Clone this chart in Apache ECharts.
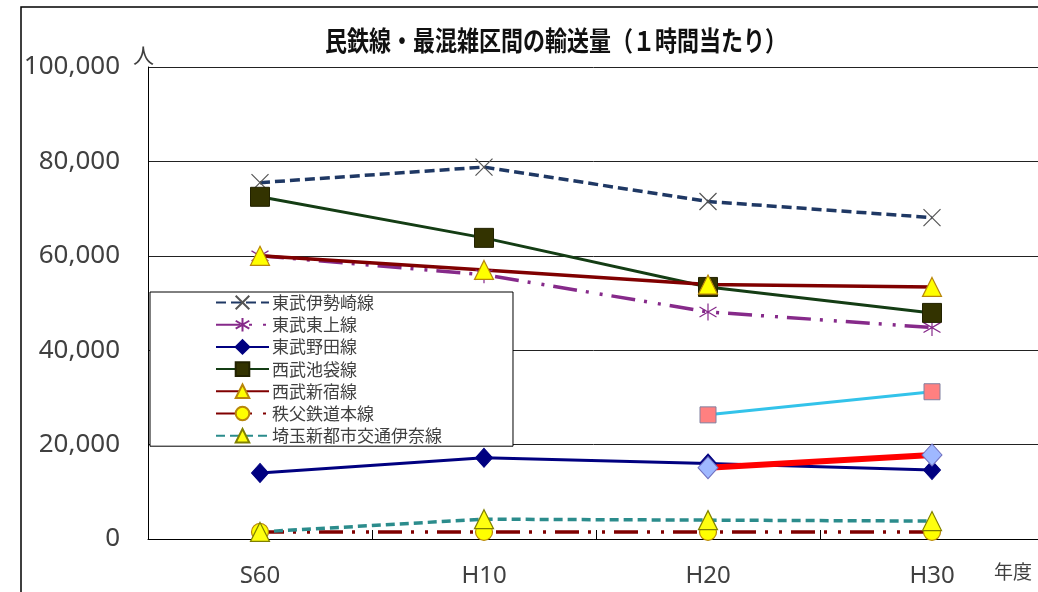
<!DOCTYPE html>
<html><head><meta charset="utf-8">
<script src="https://cdn.jsdelivr.net/npm/echarts@6/dist/echarts.min.js"></script>
<style>html,body{margin:0;padding:0;background:#fff}#c{width:1038px;height:592px}</style>
</head><body><div id="c"></div>
<script>
const categories = ['S60', 'H10', 'H20', 'H30'];
const isesaki = [75500, 78800, 71500, 68100];
const tojo = [60000, 56000, 48100, 44800];
const noda = [14000, 17200, 16000, 14600];
const ikebukuro = [72500, 63800, 53400, 47900];
const shinjuku = [60000, 57000, 53900, 53400];
const chichibu = [1500, 1500, 1500, 1500];
const ina = [1500, 4200, 4000, 3800];
const extraBlue = [null, null, 26300, 31200];
const extraRed = [null, null, 15100, 17800];
const yTicks = [0, 20000, 40000, 60000, 80000, 100000];
const names = ['東武伊勢崎線','東武東上線','東武野田線','西武池袋線','西武新宿線','秩父鉄道本線','埼玉新都市交通伊奈線'];
const titleText = '民鉄線・最混雑区間の輸送量（１時間当たり）';

const F = "'Noto Sans', 'Noto Sans CJK JP', sans-serif";
const FJ = "'Noto Sans CJK JP', 'Noto Sans', sans-serif";
const xPath = 'path://M0,0L10,10M10,0L0,10';
const starPath = 'path://M5,0L5,10M0,2.1L10,7.9M10,2.1L0,7.9';
const dashDotDot = [24, 9, 3, 11, 3, 9];

const chart = echarts.init(document.getElementById('c'));
chart.setOption({
  animation: false,
  backgroundColor: '#fff',
  legend: {
    data: names,
    orient: 'vertical',
    left: 150, top: 292,
    padding: [2, 71, 2, 65],
    itemWidth: 53, itemHeight: 17, itemGap: 5.2,
    backgroundColor: '#fff',
    borderColor: '#000', borderWidth: 1,
    textStyle: {fontFamily: FJ, fontSize: 17, color: '#404040', padding: [0,0,0,-2]}
  },
  grid: {left: 148, top: 67, right: -6, bottom: 53, outerBoundsMode: 'none', containLabel: false},
  xAxis: {
    type: 'category', data: categories, boundaryGap: true,
    axisLine: {lineStyle: {color: '#000', width: 1}},
    axisTick: {show: true, inside: true, length: 9, lineStyle: {color: '#000'}},
    axisLabel: {fontFamily: F, fontSize: 24, color: '#404040', margin: 25},
    splitLine: {show: false}
  },
  yAxis: {
    type: 'value', min: yTicks[0], max: yTicks[yTicks.length-1], interval: 20000,
    axisLine: {show: true, lineStyle: {color: '#000', width: 1}},
    axisTick: {show: false},
    axisLabel: {fontFamily: F, fontSize: 26, color: '#404040', margin: 28,
      formatter: v => v.toLocaleString('en-US')},
    splitLine: {show: true, lineStyle: {color: '#222', width: 1}}
  },
  graphic: [
    {type: 'rect', shape: {x: 21, y: 7, width: 1040, height: 600}, style: {fill: 'none', stroke: '#000', lineWidth: 1.5}, z: 100, silent: true},
    {type: 'text', x: 325, y: 27, scaleY: 1.22, style: {text: titleText, font: "bold 22px 'Noto Sans CJK JP'", fill: '#111'}},
    {type: 'text', left: 133, top: 45, style: {text: '人', font: "21px 'Noto Sans CJK JP'", fill: '#404040'}},
    {type: 'text', left: 994, top: 562, style: {text: '年度', font: "19px 'Noto Sans CJK JP'", fill: '#404040'}}
  ],
  series: [
    {name: names[0], type: 'line', data: isesaki, symbol: xPath, symbolSize: 17,
      itemStyle: {color: '#555', borderColor: '#555', borderWidth: 1.2},
      lineStyle: {color: '#1f3864', width: 3.5, type: [10, 5]}},
    {name: names[1], type: 'line', data: tojo, symbol: starPath, symbolSize: 17,
      itemStyle: {color: '#862a8a', borderColor: '#862a8a', borderWidth: 1.2},
      lineStyle: {color: '#862a8a', width: 3.5, type: dashDotDot}},
    {name: names[2], type: 'line', data: noda, symbol: 'diamond', symbolSize: [17, 19],
      itemStyle: {color: '#000080', borderColor: '#000080', borderWidth: 1},
      lineStyle: {color: '#000080', width: 3}},
    {name: names[3], type: 'line', data: ikebukuro, symbol: 'rect', symbolSize: 19,
      itemStyle: {color: '#333300', borderColor: '#222200', borderWidth: 1},
      lineStyle: {color: '#143d14', width: 3}},
    {name: names[4], type: 'line', data: shinjuku, symbol: 'triangle', symbolSize: 19,
      itemStyle: {color: '#ffff00', borderColor: '#b8860b', borderWidth: 1.2},
      lineStyle: {color: '#800000', width: 3.5}},
    {name: names[5], type: 'line', data: chichibu, symbol: 'circle', symbolSize: 17,
      itemStyle: {color: '#ffff00', borderColor: '#b8860b', borderWidth: 1.2},
      lineStyle: {color: '#800000', width: 3.5, type: dashDotDot}},
    {name: names[6], type: 'line', data: ina, symbol: 'triangle', symbolSize: 19,
      itemStyle: {color: '#ffff10', borderColor: '#808000', borderWidth: 1.2},
      lineStyle: {color: '#2b8c8c', width: 3.5, type: [9, 5]}},
    {name: 'extraBlue', type: 'line', data: extraBlue, symbol: 'rect', symbolSize: 16,
      itemStyle: {color: '#ff8080', borderColor: '#8080a0', borderWidth: 1},
      lineStyle: {color: '#33c3ea', width: 3}},
    {name: 'extraRed', type: 'line', data: extraRed, symbol: 'diamond', symbolSize: [20, 22],
      itemStyle: {color: '#9fb8ff', borderColor: '#7070c0', borderWidth: 1},
      lineStyle: {color: '#ff0000', width: 6}}
  ]
});
</script></body></html>
